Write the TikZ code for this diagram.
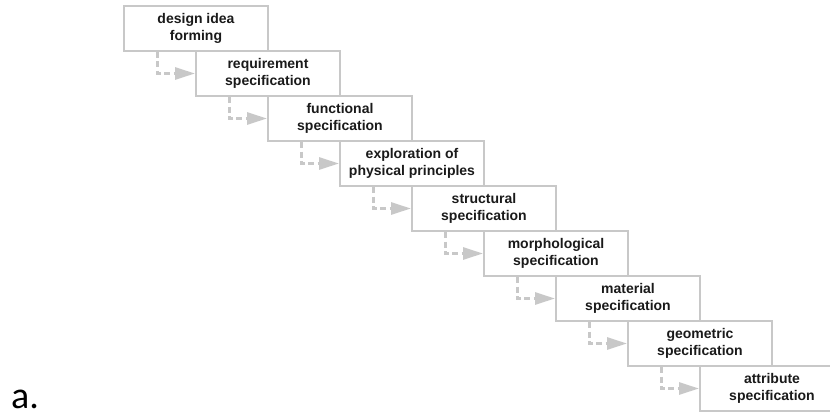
\documentclass[tikz,border=0pt]{standalone}
\usepackage{fontspec}
\setmainfont{Liberation Sans}
\newfontfamily\labelfont{Carlito}
\usetikzlibrary{arrows.meta,calc}
\definecolor{boxgray}{HTML}{C8C8C8}
\definecolor{txtdark}{HTML}{1A1A1A}
\tikzset{
  stepbox/.style={draw=boxgray, line width=2pt, fill=white, minimum width=144pt, minimum height=45pt,
    inner sep=0pt, anchor=north west, align=center, text=txtdark,
    font=\fontsize{14pt}{17pt}\selectfont\bfseries},
  flowarrow/.style={draw=boxgray, line width=3pt, dash pattern=on 6pt off 3.5pt,
    -{Triangle[length=20pt,width=12pt,fill=boxgray]}}
}
\begin{document}
\begin{tikzpicture}[x=1pt,y=1pt]
\clip (0,0) rectangle (830,416);
\useasboundingbox (0,0) rectangle (830,416);
\foreach \i/\t in {0/{design idea\\forming},
                   1/{requirement\\specification},
                   2/{functional\\specification},
                   3/{exploration of\\physical principles},
                   4/{structural\\specification},
                   5/{morphological\\specification},
                   6/{material\\specification},
                   7/{geometric\\specification},
                   8/{attribute\\specification}}{
  \node[stepbox] (b\i) at ({123+72*\i},{411-45*\i}) {\t};
}
\foreach \i [evaluate=\i as \j using int(\i+1)] in {0,...,7}{
  \draw[flowarrow] ($(b\i.south west)+(34,0)$) |- (b\j.west);
}
\node[anchor=base west, inner sep=0pt, text depth=0pt, font=\labelfont\fontsize{38pt}{38pt}\selectfont, text=black] (lbl) at (11,8) {a.};
\end{tikzpicture}
\end{document}
